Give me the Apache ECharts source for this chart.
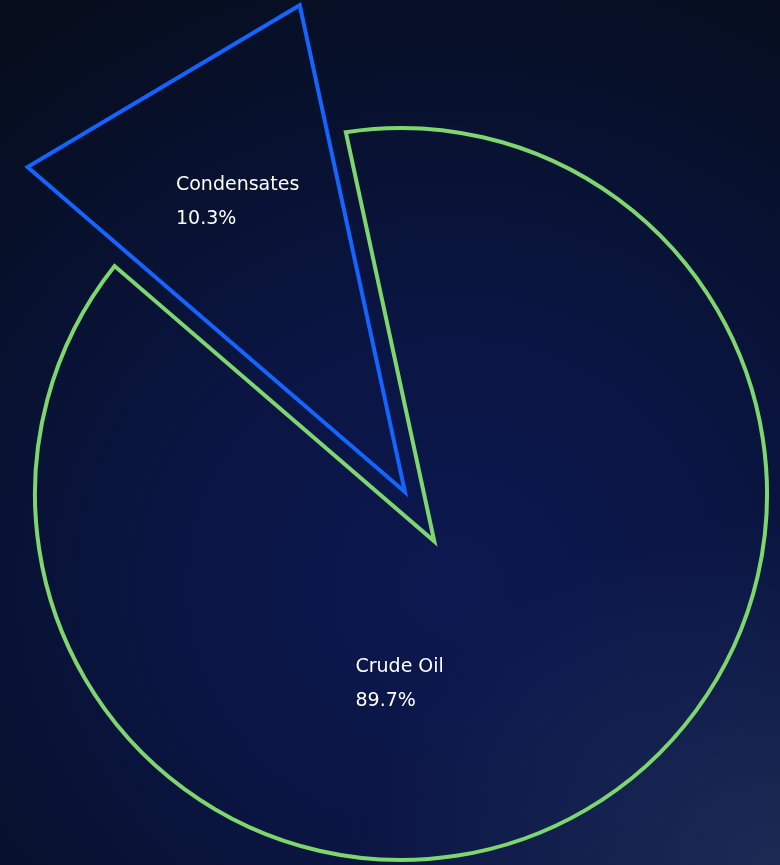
<!DOCTYPE html>
<html>
<head>
<meta charset="utf-8">
<script src="https://cdn.jsdelivr.net/npm/echarts@6/dist/echarts.min.js"></script>
<style>
html, body {
  margin: 0;
  padding: 0;
  background: #050d1c;
}
#shareChart {
  width: 780px;
  height: 865px;
  background:
    radial-gradient(ellipse 55% 40% at 100% 100%, rgba(40, 58, 104, 0.6), rgba(40, 58, 104, 0) 100%),
    radial-gradient(ellipse 95% 80% at 58% 68%, #0c1850 0%, #0a1542 40%, #071029 78%, #050d1c 100%);
}
</style>
</head>
<body>
<div id="shareChart"></div>
<script>
var categories = ["Crude Oil", "Condensates"];
var shares = [89.7, 10.3];
var shareLabels = ["89.7%", "10.3%"];

// per-slice look
var sliceColors = ["#7ed66e", "#1464ff"];
var sliceShapes = ["arc", "wedge"];
var slicePull = [11.5, 0];          // in radius-axis units
var labelSpots = [[39.9, 57.4], [74.2, 92.75]]; // [radius, angle] on the polar axes
var arcRadius = 73.5;
var arcShift = [-4, 2];             // px, the outline circle sits a little off the tip

// cumulative start / end for each slice
var sliceData = [];
var acc = 0;
for (var i = 0; i < shares.length; i++) {
  sliceData.push([acc, acc + shares[i], i]);
  acc += shares[i];
}

function unitDir(from, to) {
  var dx = to[0] - from[0], dy = to[1] - from[1];
  var len = Math.sqrt(dx * dx + dy * dy);
  return [dx / len, dy / len];
}

// where a ray from p along d meets the circle (c, r)
function hitCircle(p, d, c, r) {
  var fx = p[0] - c[0], fy = p[1] - c[1];
  var b = fx * d[0] + fy * d[1];
  var k = fx * fx + fy * fy - r * r;
  var t = -b + Math.sqrt(b * b - k);
  return [p[0] + t * d[0], p[1] + t * d[1]];
}

var chart = echarts.init(document.getElementById("shareChart"));

var option = {
  backgroundColor: "transparent",
  animation: false,
  polar: {
    center: [405, 492],
    radius: 498
  },
  angleAxis: {
    type: "value",
    min: 0,
    max: 100,
    startAngle: 102.2,
    clockwise: true,
    show: false
  },
  radiusAxis: {
    type: "value",
    min: 0,
    max: 100,
    show: false
  },
  series: [
    {
      type: "custom",
      coordinateSystem: "polar",
      data: sliceData,
      renderItem: function (params, api) {
        var idx = api.value(2);
        var from = api.value(0);
        var to = api.value(1);
        var mid = (from + to) / 2;
        var c = api.coord([0, 0]);
        var lineStyle = {
          fill: "none",
          stroke: sliceColors[idx],
          lineWidth: 4,
          lineJoin: "miter"
        };
        var shapeEl;
        if (sliceShapes[idx] === "wedge") {
          shapeEl = {
            type: "polygon",
            shape: { points: [c, api.coord([100, from]), api.coord([100, to])] },
            style: lineStyle
          };
        } else {
          var tip = api.coord([slicePull[idx], mid]);
          var edge = api.coord([arcRadius, 0]);
          var r = Math.sqrt(Math.pow(edge[0] - c[0], 2) + Math.pow(edge[1] - c[1], 2));
          var ac = [c[0] + arcShift[0], c[1] + arcShift[1]];
          var p1 = hitCircle(tip, unitDir(c, api.coord([100, from])), ac, r);
          var p2 = hitCircle(tip, unitDir(c, api.coord([100, to])), ac, r);
          var big = (to - from) > 50 ? 1 : 0;
          var d = "M" + tip[0] + " " + tip[1] +
            " L" + p1[0] + " " + p1[1] +
            " A" + r + " " + r + " 0 " + big + " 1 " + p2[0] + " " + p2[1] + " Z";
          shapeEl = {
            type: "path",
            shape: { pathData: d },
            style: lineStyle
          };
        }
        var lp = api.coord(labelSpots[idx]);
        var textEl = {
          type: "text",
          x: lp[0],
          y: lp[1],
          style: {
            text: categories[idx] + "\n" + shareLabels[idx],
            fill: "#ffffff",
            fontSize: 19,
            fontFamily: "DejaVu Sans",
            lineHeight: 34,
            align: "left",
            verticalAlign: "middle"
          }
        };
        return { type: "group", children: [shapeEl, textEl] };
      }
    }
  ]
};

chart.setOption(option);
</script>
</body>
</html>
